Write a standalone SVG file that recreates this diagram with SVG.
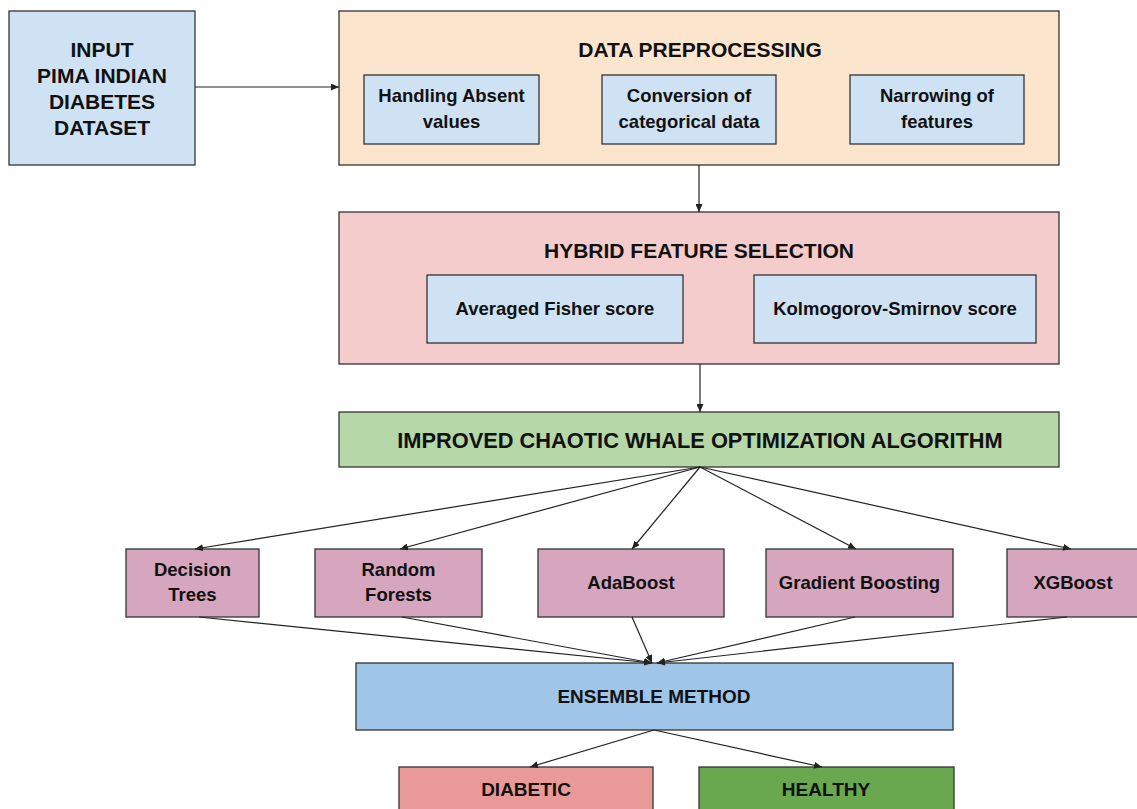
<svg xmlns="http://www.w3.org/2000/svg" width="1137" height="809" viewBox="0 0 1137 809">
<style>
.box{stroke:#333;stroke-width:1.3}
.t{font-family:"Liberation Sans",Arial,sans-serif;font-weight:bold;fill:#111;text-anchor:middle}
.big{font-size:21px}
.mid{font-size:18.5px}
.conn line{stroke:#222;stroke-width:1.2;marker-end:url(#ah)}
</style>
<defs>
<marker id="ah" markerUnits="userSpaceOnUse" markerWidth="8" markerHeight="7" refX="8" refY="3.5" orient="auto">
<path d="M0,0 L8,3.5 L0,7 z" fill="#222"/>
</marker>
</defs>
<rect width="1137" height="809" fill="#fff"/>

<g id="input">
<rect class="box" x="9" y="11" width="186" height="154" fill="#cfe2f3"/>
<text class="t big" x="102" y="57">INPUT</text>
<text class="t big" x="102" y="83">PIMA INDIAN</text>
<text class="t big" x="102" y="109">DIABETES</text>
<text class="t big" x="102" y="135">DATASET</text>
</g>

<g id="preprocessing">
<rect class="box" x="339" y="11" width="720" height="154" fill="#fce5cd"/>
<text class="t big" x="700" y="57">DATA PREPROCESSING</text>
</g>
<g id="absent">
<rect class="box" x="364" y="75" width="175" height="69" fill="#cfe2f3"/>
<text class="t mid" x="451.5" y="102">Handling Absent</text>
<text class="t mid" x="451.5" y="128">values</text>
</g>
<g id="conversion">
<rect class="box" x="602" y="75" width="174" height="69" fill="#cfe2f3"/>
<text class="t mid" x="689" y="102">Conversion of</text>
<text class="t mid" x="689" y="128">categorical data</text>
</g>
<g id="narrowing">
<rect class="box" x="850" y="75" width="174" height="69" fill="#cfe2f3"/>
<text class="t mid" x="937" y="102">Narrowing of</text>
<text class="t mid" x="937" y="128">features</text>
</g>

<g id="hybrid">
<rect class="box" x="339" y="212" width="720" height="152" fill="#f4cccc"/>
<text class="t big" x="699" y="258">HYBRID FEATURE SELECTION</text>
</g>
<g id="fisher">
<rect class="box" x="427" y="275" width="256" height="68" fill="#cfe2f3"/>
<text class="t mid" x="555" y="315">Averaged Fisher score</text>
</g>
<g id="ks">
<rect class="box" x="754" y="275" width="282" height="68" fill="#cfe2f3"/>
<text class="t mid" x="895" y="315">Kolmogorov-Smirnov score</text>
</g>

<g id="whale">
<rect class="box" x="339" y="412" width="720" height="55" fill="#b6d7a8"/>
<text class="t" style="font-size:21.8px" x="700" y="448">IMPROVED CHAOTIC WHALE OPTIMIZATION ALGORITHM</text>
</g>

<g id="dt">
<rect class="box" x="126" y="549" width="133" height="68" fill="#d5a6bd"/>
<text class="t mid" x="192.5" y="576">Decision</text>
<text class="t mid" x="192.5" y="601">Trees</text>
</g>
<g id="rf">
<rect class="box" x="315" y="549" width="167" height="68" fill="#d5a6bd"/>
<text class="t mid" x="398.5" y="576">Random</text>
<text class="t mid" x="398.5" y="601">Forests</text>
</g>
<g id="ada">
<rect class="box" x="538" y="549" width="186" height="68" fill="#d5a6bd"/>
<text class="t mid" x="631" y="589">AdaBoost</text>
</g>
<g id="gb">
<rect class="box" x="766" y="549" width="187" height="68" fill="#d5a6bd"/>
<text class="t mid" x="859.5" y="589">Gradient Boosting</text>
</g>
<g id="xgb">
<rect class="box" x="1007" y="549" width="134" height="68" fill="#d5a6bd"/>
<text class="t mid" x="1073" y="589">XGBoost</text>
</g>

<g id="ensemble">
<rect class="box" x="356" y="663" width="597" height="67" fill="#9fc5e8"/>
<text class="t" style="font-size:19px" x="654" y="703">ENSEMBLE METHOD</text>
</g>

<g id="diabetic">
<rect class="box" x="399" y="767" width="254" height="60" fill="#ea9999"/>
<text class="t" style="font-size:19px" x="526" y="796">DIABETIC</text>
</g>
<g id="healthy">
<rect class="box" x="699" y="767" width="255" height="60" fill="#6aa84f"/>
<text class="t" style="font-size:19px" x="826" y="796">HEALTHY</text>
</g>

<g id="connectors" class="conn">
<line x1="195" y1="87" x2="339" y2="87"/>
<line x1="699" y1="165" x2="699" y2="212"/>
<line x1="700" y1="364" x2="700" y2="412"/>
<line x1="700" y1="467" x2="195" y2="549"/>
<line x1="700" y1="467" x2="400" y2="549"/>
<line x1="700" y1="467" x2="632" y2="549"/>
<line x1="700" y1="467" x2="856" y2="549"/>
<line x1="700" y1="467" x2="1071" y2="549"/>
<line x1="199" y1="617" x2="652" y2="663"/>
<line x1="402" y1="617" x2="652" y2="663"/>
<line x1="632" y1="617" x2="652" y2="663"/>
<line x1="855" y1="617" x2="657" y2="663"/>
<line x1="1067" y1="617" x2="657" y2="663"/>
<line x1="654" y1="730" x2="530" y2="767"/>
<line x1="654" y1="730" x2="822" y2="767"/>
</g>
</svg>
